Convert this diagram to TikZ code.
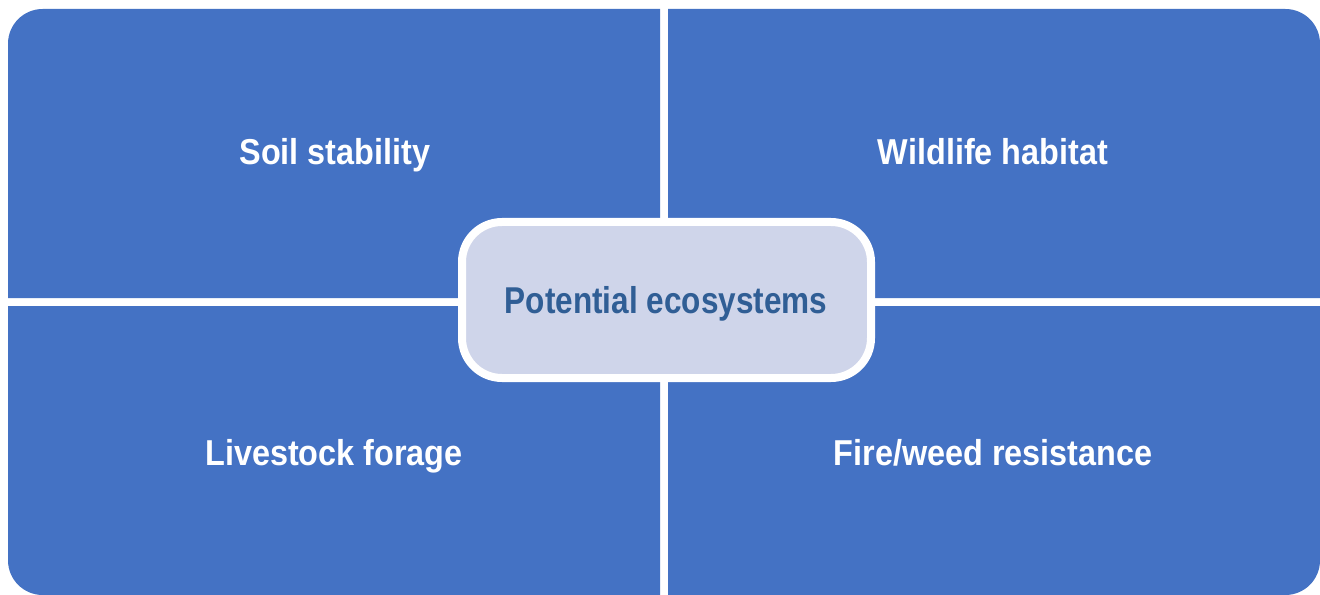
\documentclass[tikz,border=0pt]{standalone}
\usepackage{fontspec}
\newfontfamily\condfont[FakeStretch=0.9]{Liberation Sans}
\newfontfamily\hubfont[FakeStretch=0.845]{Liberation Sans}
\definecolor{quadblue}{HTML}{4472C4}
\definecolor{centerfill}{HTML}{CFD5EA}
\definecolor{centertext}{HTML}{305E95}
\begin{document}
\begin{tikzpicture}[x=0.75pt,y=-0.75pt,
  quad/.style={fill=quadblue},
  quadlabel/.style={text=white,font=\condfont\bfseries\fontsize{27}{31}\selectfont,anchor=base,inner sep=0pt},
  hub/.style={draw=white,line width=6pt,fill=centerfill,rounded corners=30pt,
    minimum width=409*0.75pt,minimum height=156*0.75pt},
  hublabel/.style={text=centertext,font=\hubfont\bfseries\fontsize{28}{32}\selectfont,anchor=base,inner sep=0pt}]
\useasboundingbox (0,0) rectangle (1320,595);
\fill[white] (0,0) rectangle (1320,595);
% quadrants
\fill[quad] (660,298) -- (8,298) [rounded corners=26pt] -- (8,9) [sharp corners] -- (660,9) -- cycle;
\fill[quad] (668,298) -- (1320,298) [rounded corners=26pt] -- (1320,9) [sharp corners] -- (668,9) -- cycle;
\fill[quad] (660,306) -- (8,306) [rounded corners=26pt] -- (8,595) [sharp corners] -- (660,595) -- cycle;
\fill[quad] (668,306) -- (1320,306) [rounded corners=26pt] -- (1320,595) [sharp corners] -- (668,595) -- cycle;
% labels
\node[quadlabel] (soil) at (335,165) {Soil stability};
\node[quadlabel] (wild) at (993,165) {Wildlife habitat};
\node[quadlabel] (live) at (334,465) {Livestock forage};
\node[quadlabel] (fire) at (993,465) {Fire/weed resistance};
% center
\node[hub] (center) at (666.5,300) {};
\node[hublabel] (centerlabel) at (666,313) {Potential ecosystems};
\end{tikzpicture}
\end{document}
